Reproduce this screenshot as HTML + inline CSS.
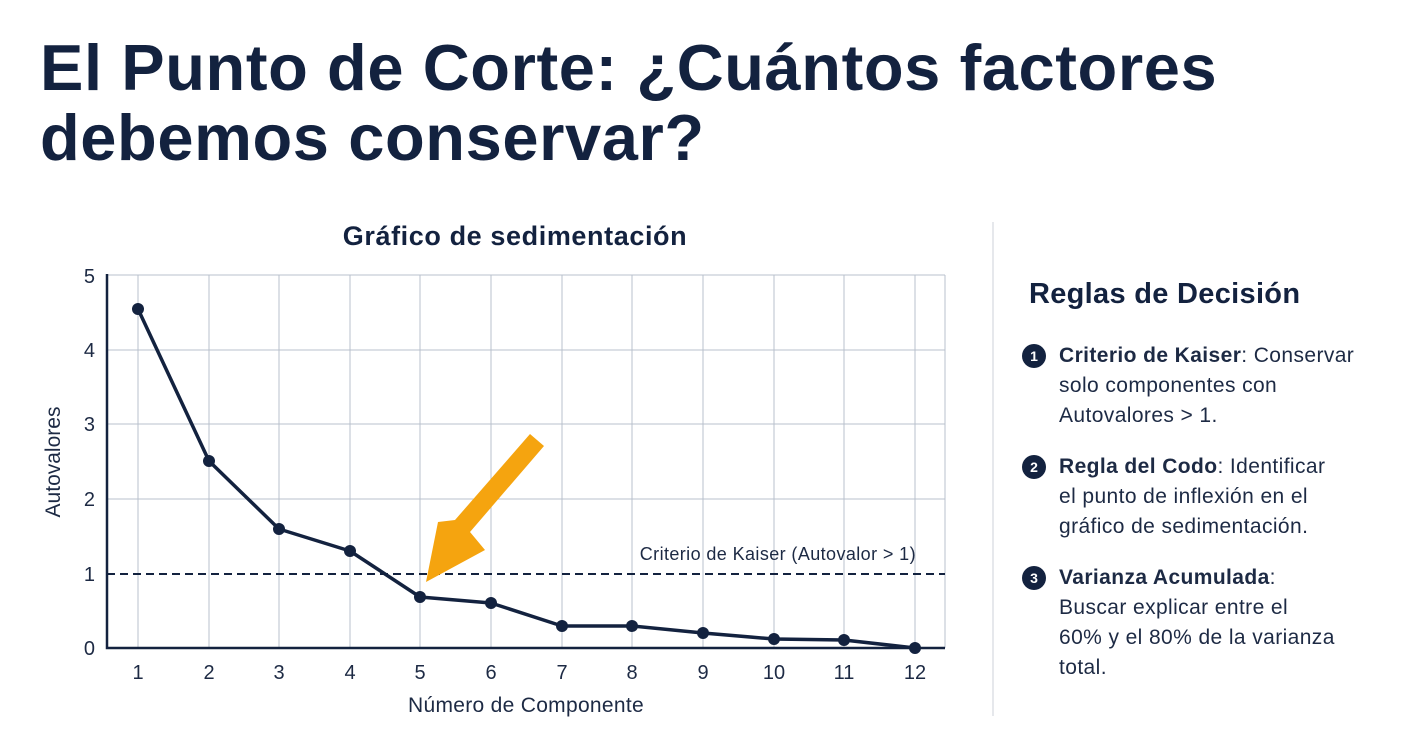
<!DOCTYPE html>
<html><head><meta charset="utf-8"><style>
body{margin:0;width:1411px;height:746px;background:#fff;font-family:"Liberation Sans",sans-serif;color:#13223f;overflow:hidden;position:relative}
h1{position:absolute;left:40px;top:33px;margin:0;font-size:65px;line-height:70px;font-weight:bold;letter-spacing:0.6px;color:#13223f;white-space:nowrap}
.div{position:absolute;left:992px;top:222px;width:2px;height:494px;background:#e6e8ec}
.rt{position:absolute;left:1029px;top:278px;font-size:29px;font-weight:bold;letter-spacing:0.3px}
.item{position:absolute;left:1059px;font-size:21px;line-height:30px;color:#1d2a44;width:345px;letter-spacing:0.4px;white-space:nowrap}
.num{position:absolute;left:-37px;top:3px;width:24px;height:24px;border-radius:50%;background:#13223f;color:#fff;font-size:14px;font-weight:bold;text-align:center;line-height:24px;letter-spacing:0}
</style></head><body>
<h1>El Punto de Corte: ¿Cuántos factores<br>debemos conservar?</h1>
<div class="div"></div>
<div class="rt">Reglas de Decisión</div>
<div class="item" style="top:341px"><span class="num">1</span><b>Criterio de Kaiser</b>: Conservar<br>solo componentes con<br>Autovalores &gt; 1.</div>
<div class="item" style="top:452px"><span class="num">2</span><b>Regla del Codo</b>: Identificar<br>el punto de inflexión en el<br>gráfico de sedimentación.</div>
<div class="item" style="top:563px"><span class="num">3</span><b>Varianza Acumulada</b>:<br>Buscar explicar entre el<br>60% y el 80% de la varianza<br>total.</div>
<svg width="990" height="746" style="position:absolute;left:0;top:0" font-family="Liberation Sans, sans-serif">
<text x="515" y="245" text-anchor="middle" font-size="27" font-weight="bold" fill="#13223f" letter-spacing="0.6">Gráfico de sedimentación</text>
<g stroke="#b8c0cc" stroke-width="1">
<line x1="107" y1="275" x2="945" y2="275"/><line x1="107" y1="350" x2="945" y2="350"/><line x1="107" y1="424" x2="945" y2="424"/><line x1="107" y1="499" x2="945" y2="499"/>
<line x1="138" y1="275" x2="138" y2="648"/><line x1="209" y1="275" x2="209" y2="648"/><line x1="279" y1="275" x2="279" y2="648"/><line x1="350" y1="275" x2="350" y2="648"/><line x1="420" y1="275" x2="420" y2="648"/><line x1="491" y1="275" x2="491" y2="648"/><line x1="562" y1="275" x2="562" y2="648"/><line x1="632" y1="275" x2="632" y2="648"/><line x1="703" y1="275" x2="703" y2="648"/><line x1="774" y1="275" x2="774" y2="648"/><line x1="844" y1="275" x2="844" y2="648"/><line x1="915" y1="275" x2="915" y2="648"/><line x1="945" y1="275" x2="945" y2="648"/>
</g>
<line x1="107" y1="574" x2="945" y2="574" stroke="#13223f" stroke-width="2" stroke-dasharray="8,5"/>
<text x="916" y="560" text-anchor="end" font-size="18" fill="#1d2a44" letter-spacing="0.4">Criterio de Kaiser (Autovalor &gt; 1)</text>
<path d="M107 274 V648 H945" fill="none" stroke="#13223f" stroke-width="2.5"/>
<g font-size="20" fill="#1d2a44" text-anchor="end"><text x="95" y="655">0</text><text x="95" y="581">1</text><text x="95" y="506">2</text><text x="95" y="431">3</text><text x="95" y="357">4</text><text x="95" y="283">5</text></g>
<g font-size="20" fill="#1d2a44" text-anchor="middle"><text x="138" y="679">1</text><text x="209" y="679">2</text><text x="279" y="679">3</text><text x="350" y="679">4</text><text x="420" y="679">5</text><text x="491" y="679">6</text><text x="562" y="679">7</text><text x="632" y="679">8</text><text x="703" y="679">9</text><text x="774" y="679">10</text><text x="844" y="679">11</text><text x="915" y="679">12</text></g>
<text x="526" y="712" text-anchor="middle" font-size="21" fill="#1d2a44" letter-spacing="0.3">Número de Componente</text>
<text transform="translate(60,462) rotate(-90)" text-anchor="middle" font-size="21" fill="#1d2a44">Autovalores</text>
<polyline points="138,309 209,461 279,529 350,551 420,597 491,603 562,626 632,626 703,633 774,639 844,640 915,648" fill="none" stroke="#13223f" stroke-width="3.5" stroke-linejoin="round"/>
<g fill="#13223f"><circle cx="138" cy="309" r="6"/><circle cx="209" cy="461" r="6"/><circle cx="279" cy="529" r="6"/><circle cx="350" cy="551" r="6"/><circle cx="420" cy="597" r="6"/><circle cx="491" cy="603" r="6"/><circle cx="562" cy="626" r="6"/><circle cx="632" cy="626" r="6"/><circle cx="703" cy="633" r="6"/><circle cx="774" cy="639" r="6"/><circle cx="844" cy="640" r="6"/><circle cx="915" cy="648" r="6"/></g>
<path d="M530 434 L544 446 L470 532 L485 550 L426 582 L438 522 L455 520 Z" fill="#f5a40f"/>
</svg>
</body></html>
